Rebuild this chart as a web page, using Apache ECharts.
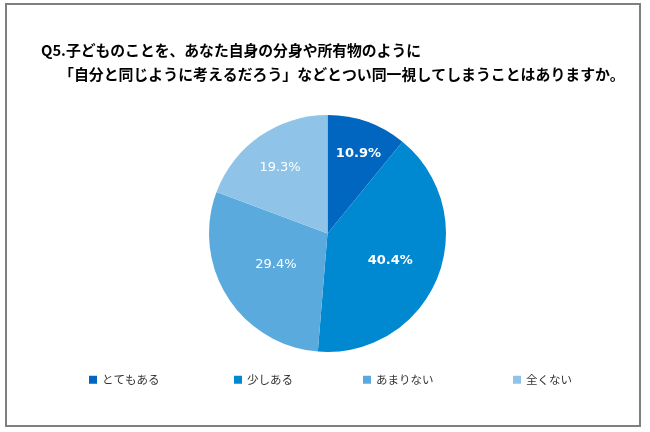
<!DOCTYPE html>
<html><head><meta charset="utf-8">
<script src="https://cdn.jsdelivr.net/npm/echarts@6/dist/echarts.min.js"></script>
<style>html,body{margin:0;padding:0;background:#fff}#c{width:650px;height:432px}</style>
</head><body><div id="c"></div>
<script>
const categories = ['とてもある', '少しある', 'あまりない', '全くない'];
const values = [10.9, 40.4, 29.4, 19.3];
const titleLines = ['Q5.子どものことを、あなた自身の分身や所有物のように', '「自分と同じように考えるだろう」などとつい同一視してしまうことはありますか。'];

const colors = ['#0066C0', '#0088D1', '#5AAADE', '#8FC4E8'];
const labelOffsets = [[10, -21], [5, 4], [1, -2], [-12, -15]];
const labelWeights = ['bold', 'bold', 'normal', 'normal'];
const legendLeft = [84, 229, 358, 508];
const font = '"Noto Sans CJK JP", "Noto Sans", sans-serif';

const chart = echarts.init(document.getElementById('c'));
chart.setOption({
  animation: false,
  backgroundColor: '#fff',
  color: colors,
  title: [
    {text: titleLines[0], left: 36, top: 38, textStyle: {fontFamily: font, fontSize: 14.8, fontWeight: 'bold', color: '#000'}},
    {text: titleLines[1], left: 54, top: 62, textStyle: {fontFamily: font, fontSize: 14.9, fontWeight: 'bold', color: '#000'}}
  ],
  graphic: [{type: 'rect', shape: {x: 6, y: 4, width: 634, height: 422}, style: {fill: 'none', stroke: '#7f7f7f', lineWidth: 2}, silent: true}],
  legend: categories.map((c, i) => ({
    data: [c], left: legendLeft[i], top: 369, icon: 'rect', itemWidth: 8, itemHeight: 8,
    textStyle: {fontFamily: font, fontSize: 11.5, color: '#333'}
  })),
  series: [{
    type: 'pie',
    center: [327.5, 233.5],
    radius: 118.5,
    startAngle: 90,
    clockwise: true,
    label: {show: true, position: 'inside', color: '#fff', fontFamily: 'Verdana, "DejaVu Sans", sans-serif', fontSize: 13},
    labelLine: {show: false},
    data: categories.map((c, i) => ({
      name: c, value: values[i],
      label: {formatter: values[i].toFixed(1) + '%', offset: labelOffsets[i], fontWeight: labelWeights[i]}
    }))
  }]
});
</script></body></html>
